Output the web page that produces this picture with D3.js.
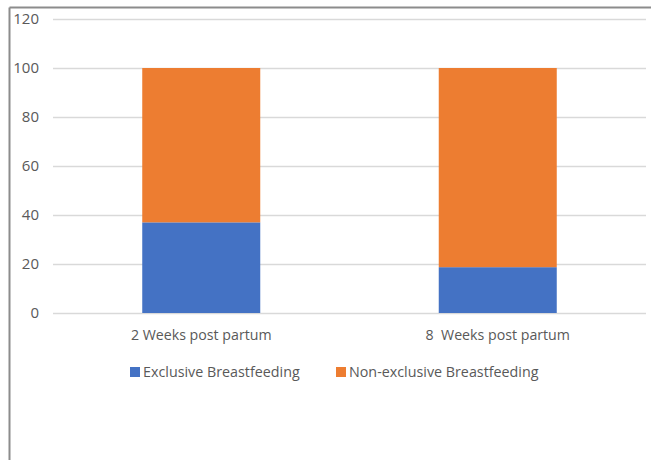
<!DOCTYPE html>
<html>
<head>
<meta charset="utf-8">
<script src="https://cdn.jsdelivr.net/npm/d3@7"></script>
<style>
html,body{margin:0;padding:0;background:#fff;}
svg{display:block;}
text{font-family:"Open Sans","Noto Sans",sans-serif;fill:#595959;}
</style>
</head>
<body>
<svg id="chart" width="651" height="460"></svg>
<script>
const categories = ["2 Weeks post partum", "8\u00a0 Weeks post partum"];
const seriesNames = ["Exclusive Breastfeeding", "Non-exclusive Breastfeeding"];
const exclusive = [37.0, 18.7];
const nonExclusive = [63.0, 81.3];
const yTicks = [0, 20, 40, 60, 80, 100, 120];
const colors = ["#4472C4", "#ED7D31"];

const svg = d3.select("#chart");
const W = 651, H = 460;

// frame (left and top edges)
svg.append("line").attr("x1", 9.5).attr("x2", 9.5).attr("y1", 7.5).attr("y2", H)
  .attr("stroke", "#8c8c8c").attr("stroke-width", 2);
svg.append("line").attr("x1", 9.5).attr("x2", W).attr("y1", 7.5).attr("y2", 7.5)
  .attr("stroke", "#8c8c8c").attr("stroke-width", 2);

const plot = {left: 53, right: 646, top: 19, bottom: 313};

const x = d3.scaleBand().domain(categories).range([plot.left, plot.right])
  .paddingInner(0.602).paddingOuter(0.301);
const y = d3.scaleLinear().domain([0, 120]).range([plot.bottom, plot.top]);

// gridlines
const yAxis = d3.axisLeft(y).tickValues(yTicks).tickSize(-(plot.right - plot.left)).tickPadding(14);
const gy = svg.append("g").attr("transform", `translate(${plot.left},0)`).call(yAxis);
gy.select(".domain").remove();
gy.selectAll(".tick line").attr("stroke", "#d9d9d9").attr("stroke-width", 1.3);
gy.selectAll(".tick text").attr("font-size", 15).style("fill", "#595959");

// stacked data
const data = categories.map((c, i) => ({cat: c, exclusive: exclusive[i], nonExclusive: nonExclusive[i]}));
const stack = d3.stack().keys(["exclusive", "nonExclusive"]);
const layers = stack(data);

svg.append("g").selectAll("g").data(layers).join("g")
  .attr("fill", (d, i) => colors[i])
  .selectAll("rect").data(d => d).join("rect")
  .attr("x", d => x(d.data.cat))
  .attr("width", x.bandwidth())
  .attr("y", d => y(d[1]))
  .attr("height", d => y(d[0]) - y(d[1]));

// x axis labels
const xAxis = d3.axisBottom(x).tickSize(0).tickPadding(17);
const gx = svg.append("g").attr("transform", `translate(0,${plot.bottom})`).call(xAxis);
gx.select(".domain").remove();
gx.selectAll(".tick text").attr("font-size", 14.2).style("fill", "#595959");

// legend
const legendItems = [{x: 130, name: seriesNames[0], color: colors[0]}, {x: 336, name: seriesNames[1], color: colors[1]}];
const lg = svg.append("g").selectAll("g").data(legendItems).join("g")
  .attr("transform", d => `translate(${d.x},${372})`);
lg.append("rect").attr("x", 0).attr("y", -5).attr("width", 10).attr("height", 10).attr("fill", d => d.color);
lg.append("text").attr("x", 13).attr("y", 0).attr("dy", "0.35em").attr("font-size", 14.3)
  .text(d => d.name);
</script>
</body>
</html>
